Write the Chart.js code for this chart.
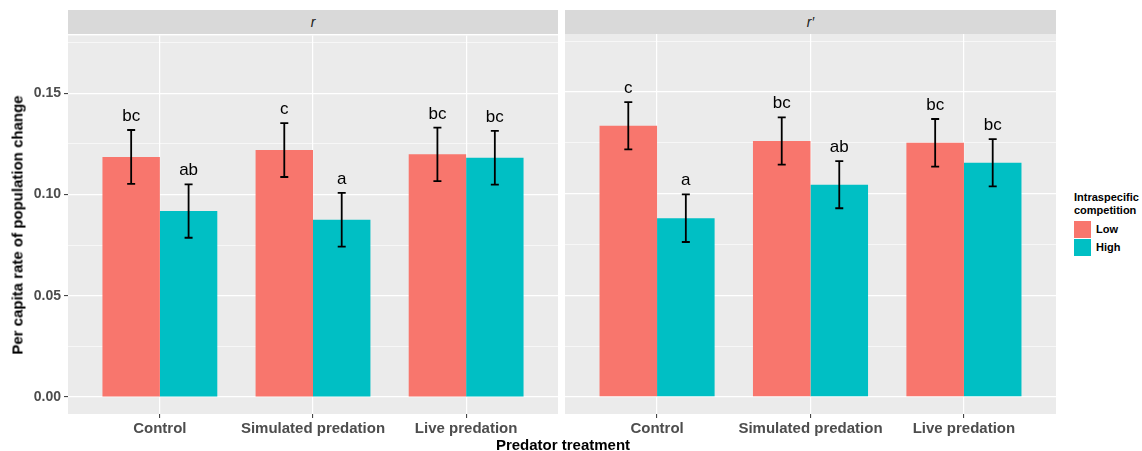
<!DOCTYPE html>
<html>
<head>
<meta charset="utf-8">
<script src="https://cdn.jsdelivr.net/npm/chart.js@4"></script>
<style>
  body { margin: 0; background: #fff; font-family: "Liberation Sans", Arial, sans-serif; }
  #wrap { position: relative; width: 1142px; height: 451px; overflow: hidden; }
  .strip { position: absolute; top: 10px; height: 24px; background: #D9D9D9; color: #1A1A1A;
           font-style: italic; font-size: 14px; line-height: 24px; text-align: center; }
  .panel { position: absolute; top: 24px; height: 420px; }
  #ytitle { position: absolute; left: 17px; top: 225px; transform: translate(-50%, -50%) rotate(-90deg);
            white-space: nowrap; font-weight: bold; font-size: 15px; color: #000; }
  #xtitle { position: absolute; left: 563px; top: 436px; transform: translateX(-50%);
            white-space: nowrap; font-weight: bold; font-size: 15px; color: #000; }
  #legend { position: absolute; left: 1074px; top: 191px; font-size: 11px; font-weight: bold; color: #000; }
  #legend .title { line-height: 13px; margin-bottom: 3px; }
  #legend .item { height: 18px; display: flex; align-items: center; }
  #legend .key { width: 17px; height: 17px; margin-right: 5px; }
</style>
</head>
<body>
<div id="wrap">
  <div class="strip" style="left:68px;width:490px;">r</div>
  <div class="strip" style="left:565px;width:491px;">r′</div>
  <div class="panel" style="left:0;width:558px;"><canvas id="chartR"></canvas></div>
  <div class="panel" style="left:565px;width:491px;"><canvas id="chartRp"></canvas></div>
  <div id="ytitle">Per capita rate of population change</div>
  <div id="xtitle">Predator treatment</div>
  <div id="legend">
    <div class="title">Intraspecific<br>competition</div>
    <div class="item"><div class="key" style="background:#F8766D"></div>Low</div>
    <div class="item"><div class="key" style="background:#00BFC4"></div>High</div>
  </div>
</div>
<script>
// Data
const categories = ['Control', 'Simulated predation', 'Live predation'];
const seriesNames = ['Low', 'High'];

const rLow = [0.1185, 0.1219, 0.1198];
const rLowErr = [0.0133, 0.0133, 0.0132];
const rLowLetters = ['bc', 'c', 'bc'];
const rHigh = [0.0918, 0.0875, 0.1181];
const rHighErr = [0.0132, 0.0133, 0.0133];
const rHighLetters = ['ab', 'a', 'bc'];

const rpLow = [0.1334, 0.1259, 0.1250];
const rpLowErr = [0.0116, 0.0116, 0.0117];
const rpLowLetters = ['c', 'bc', 'bc'];
const rpHigh = [0.0879, 0.1044, 0.1152];
const rpHighErr = [0.0117, 0.0116, 0.0116];
const rpHighLetters = ['a', 'ab', 'bc'];

const yTicks = [0, 0.05, 0.10, 0.15];
const yMinorTicks = [0.025, 0.075, 0.125, 0.175];

const lowColor = '#F8766D';
const highColor = '#00BFC4';
const FONT = '"Liberation Sans", Arial, sans-serif';

function isMajor(v) {
    return yTicks.some(t => Math.abs(t - v) < 1e-9);
}

// grey panel background
const panelBg = {
    id: 'panelBg',
    beforeDraw(chart) {
        const a = chart.chartArea;
        const ctx = chart.ctx;
        ctx.save();
        ctx.fillStyle = '#EBEBEB';
        ctx.fillRect(a.left, a.top, a.right - a.left, a.bottom - a.top);
        ctx.restore();
    }
};

// error bars + significance letters
const errorBars = {
    id: 'errorBars',
    afterDatasetsDraw(chart) {
        const ctx = chart.ctx;
        const yScale = chart.scales.y;
        ctx.save();
        chart.data.datasets.forEach((ds, di) => {
            const meta = chart.getDatasetMeta(di);
            meta.data.forEach((bar, i) => {
                const v = ds.data[i].y;
                const e = ds.errors[i];
                const yTop = yScale.getPixelForValue(v + e);
                const yBot = yScale.getPixelForValue(v - e);
                ctx.strokeStyle = '#000';
                ctx.lineWidth = 1.8;
                ctx.beginPath();
                ctx.moveTo(bar.x, yTop);
                ctx.lineTo(bar.x, yBot);
                ctx.moveTo(bar.x - 4, yTop);
                ctx.lineTo(bar.x + 4, yTop);
                ctx.moveTo(bar.x - 4, yBot);
                ctx.lineTo(bar.x + 4, yBot);
                ctx.stroke();

                ctx.fillStyle = '#000';
                ctx.font = '17px ' + FONT;
                ctx.textAlign = 'center';
                ctx.textBaseline = 'alphabetic';
                ctx.fillText(ds.letters[i], bar.x, yTop - 9);
            });
        });
        ctx.restore();
    }
};

function makeChart(canvasId, low, lowErr, lowLetters, high, highErr, highLetters, showY) {
    const ctx = document.getElementById(canvasId).getContext('2d');
    return new Chart(ctx, {
        type: 'bar',
        data: {
            datasets: [{
                label: seriesNames[0],
                data: low.map((v, i) => ({ x: i, y: v })),
                errors: lowErr,
                letters: lowLetters,
                backgroundColor: lowColor
            }, {
                label: seriesNames[1],
                data: high.map((v, i) => ({ x: i, y: v })),
                errors: highErr,
                letters: highLetters,
                backgroundColor: highColor
            }]
        },
        options: {
            responsive: true,
            maintainAspectRatio: false,
            animation: false,
            layout: { padding: { top: 10, left: 0, right: 0, bottom: 0 } },
            categoryPercentage: 0.75,
            barPercentage: 1.0,
            plugins: {
                legend: { display: false },
                tooltip: { enabled: false }
            },
            scales: {
                x: {
                    type: 'linear',
                    min: -0.6,
                    max: 2.6,
                    offset: false,
                    afterBuildTicks: s => { s.ticks = categories.map((c, i) => ({ value: i })); },
                    afterFit: s => { s.height = 30; },
                    grid: {
                        offset: false,
                        color: '#FFFFFF',
                        lineWidth: 1.2,
                        tickColor: '#333333',
                        tickLength: 4,
                        tickWidth: 1
                    },
                    border: { display: false },
                    ticks: {
                        autoSkip: false,
                        maxRotation: 0,
                        padding: 2,
                        color: '#4D4D4D',
                        font: { family: FONT, size: 15, weight: 'bold' },
                        callback: v => categories[v]
                    }
                },
                y: {
                    min: -0.0084,
                    max: 0.1785,
                    afterBuildTicks: s => {
                        s.ticks = yTicks.concat(yMinorTicks).sort((a, b) => a - b).map(v => ({ value: v }));
                    },
                    afterFit: s => { s.width = showY ? 68 : 0; },
                    grid: {
                        color: '#FFFFFF',
                        lineWidth: c => isMajor(c.tick.value) ? 1.2 : 0.6,
                        tickColor: c => (showY && isMajor(c.tick.value)) ? '#333333' : 'rgba(0,0,0,0)',
                        tickLength: 4,
                        tickWidth: 1,
                        drawTicks: showY
                    },
                    border: { display: false },
                    ticks: {
                        display: showY,
                        autoSkip: false,
                        padding: 3,
                        color: '#4D4D4D',
                        font: { family: FONT, size: 14, weight: 'bold' },
                        callback: v => isMajor(v) ? v.toFixed(2) : ''
                    }
                }
            }
        },
        plugins: [panelBg, errorBars]
    });
}

makeChart('chartR', rLow, rLowErr, rLowLetters, rHigh, rHighErr, rHighLetters, true);
makeChart('chartRp', rpLow, rpLowErr, rpLowLetters, rpHigh, rpHighErr, rpHighLetters, false);
</script>
</body>
</html>
